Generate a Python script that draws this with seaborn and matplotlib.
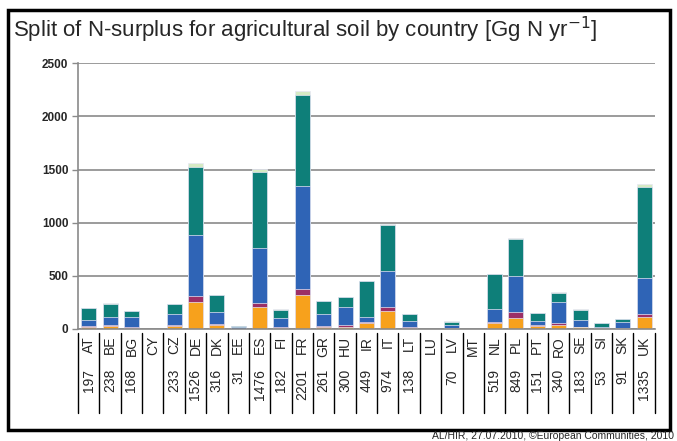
import numpy as np
import pandas as pd
import seaborn as sns
import matplotlib.pyplot as plt
from matplotlib.patches import Rectangle

sns.set_theme(style='white')
plt.rcParams['font.family'] = ['Liberation Sans', 'DejaVu Sans']

# data
countries = ['AT', 'BE', 'BG', 'CY', 'CZ', 'DE', 'DK', 'EE', 'ES', 'FI', 'FR', 'GR', 'HU', 'IR',
             'IT', 'LT', 'LU', 'LV', 'MT', 'NL', 'PL', 'PT', 'RO', 'SE', 'SI', 'SK', 'UK']
totals = [197, 238, 168, None, 233, 1526, 316, 31, 1476, 182, 2201, 261, 300, 449,
          974, 138, None, 70, None, 519, 849, 151, 340, 183, 53, 91, 1335]
orange = [22, 28, 12, 0, 25, 250, 38, 2, 207, 8, 318, 15, 20, 60,
          171, 12, 0, 5, 0, 52, 105, 25, 38, 14, 5, 8, 115]
purple = [5, 5, 5, 0, 15, 63, 8, 0, 33, 15, 62, 15, 20, 5,
          38, 3, 0, 3, 0, 10, 55, 8, 22, 6, 4, 4, 23]
blue = [60, 80, 98, 0, 105, 575, 110, 15, 525, 77, 970, 115, 165, 50,
        334, 63, 0, 25, 0, 125, 340, 45, 190, 60, 10, 55, 343]
teal = [110, 125, 53, 0, 88, 638, 160, 14, 711, 82, 851, 116, 95, 334,
        431, 60, 0, 37, 0, 332, 349, 73, 90, 103, 34, 24, 854]
green = [2, 2, 1, 0, 2, 38, 2, 0, 25, 2, 36, 2, 2, 1,
         14, 1, 0, 1, 0, 2, 9, 2, 4, 2, 1, 1, 25]

layers = [orange, purple, blue, teal, green]
colors = ['#F7A11C', '#9C2F66', '#2F64B6', '#0E7F79', '#D6EAC4']

df = pd.DataFrame({'country': countries})
cum = np.cumsum(np.array(layers, dtype=float), axis=0)
for k in range(len(layers)):
    df[f'c{k}'] = cum[k]

fig = plt.figure(figsize=(6.77, 4.41), dpi=100)
ax = fig.add_axes([0.1152, 0.254, 0.852, 0.6025])

# stacked bars: draw cumulative heights from the top layer down
for k in reversed(range(len(layers))):
    sns.barplot(data=df, x='country', y=f'c{k}', order=countries, color=colors[k],
                width=0.7, saturation=1, edgecolor='#E6E6F5', linewidth=0.5, ax=ax)

ax.set_ylim(0, 2500)
ax.set_xlim(-0.5, len(countries) - 0.5)
ax.set_yticks(np.arange(0, 2501, 500))
ax.set_yticklabels([str(v) for v in range(0, 2501, 500)], fontweight='bold', fontsize=8.5)
ax.yaxis.grid(True, color='#8a8a8a', linewidth=1.2)
ax.set_axisbelow(True)
ax.set_xlabel('')
ax.set_ylabel('')
ax.set_xticks([])
ax.tick_params(axis='y', left=True, length=4, width=1, color='#8a8a8a', pad=3)
for s in ['top', 'right']:
    ax.spines[s].set_visible(False)
for s in ['left', 'bottom']:
    ax.spines[s].set_color('#8a8a8a')
    ax.spines[s].set_linewidth(1.2)

# table under the axis
tr = ax.get_xaxis_transform()
for i, (c, t) in enumerate(zip(countries, totals)):
    ax.text(i, -0.026, c, rotation=90, ha='center', va='top', fontsize=10, transform=tr)
    if t is not None:
        ax.text(i, -0.151, str(t), rotation=90, ha='center', va='top', fontsize=10, transform=tr)
for i in range(len(countries) + 1):
    ax.plot([i - 0.5, i - 0.5], [-0.015, -0.316], color='black', lw=1,
            transform=tr, clip_on=False)

fig.text(0.019, 0.932, 'Split of N-surplus for agricultural soil by country [Gg N yr$^{-1}$]',
         fontsize=16, ha='left', va='center')
fig.text(0.996, 0.011, 'AL/HIR, 27.07.2010, \u00a9European Communities, 2010',
         fontsize=7.5, ha='right', va='center')

fig.patches.append(Rectangle((8 / 677, 1 - 430 / 441), 662 / 677, 420 / 441,
                             transform=fig.transFigure, fill=False,
                             edgecolor='black', linewidth=2.5))

fig.savefig('out.png', dpi=100)
